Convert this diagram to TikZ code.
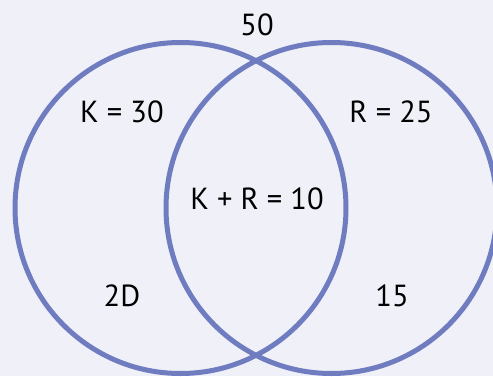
\documentclass[tikz,border=0pt]{standalone}
\usepackage{fontspec}
\setmainfont{PT Sans}
\definecolor{bgc}{RGB}{239,240,248}
\definecolor{ringc}{RGB}{112,124,192}
\begin{document}
\begin{tikzpicture}[x=1pt,y=1pt,
  ring/.style={draw=ringc,line width=5pt},
  lbl/.style={font=\fontsize{30.5}{33}\selectfont,text=black,inner sep=0pt}]
\fill[bgc] (0,0) rectangle (493,376);
\useasboundingbox (0,0) rectangle (493,376);
\node[ring,circle,minimum size=331pt,inner sep=0pt] (lc) at (180.5,168) {};
\node[ring,circle,minimum size=331pt,inner sep=0pt] (rc) at (331.5,168) {};
\node[lbl] (total) at (257,351) {50};
\node[lbl] (k) at (122,264) {K = 30};
\node[lbl] (r) at (391,264) {R = 25};
\node[lbl] (kr) at (257,177) {K + R = 10};
\node[lbl] (d) at (122,80) {2D};
\node[lbl] (f) at (392,80) {15};
\end{tikzpicture}
\end{document}
